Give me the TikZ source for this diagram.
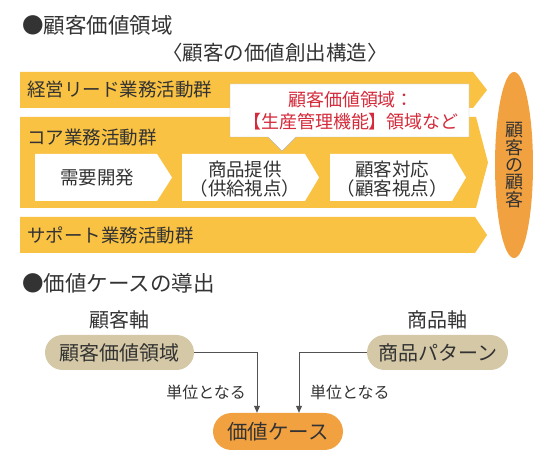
\documentclass[tikz,border=0pt]{standalone}
\usepackage{fontspec}
\setmainfont{Noto Sans CJK JP}
\usetikzlibrary{positioning, arrows.meta, shapes.geometric, shapes.misc}
\definecolor{bandyellow}{HTML}{F9C242}
\definecolor{custorange}{HTML}{F2A141}
\definecolor{axistan}{HTML}{D4C8A6}
\definecolor{calloutred}{HTML}{D42A3A}
\definecolor{textgray}{HTML}{333333}

\begin{document}
\begin{tikzpicture}[
    x=1pt, y=-1pt,
    every node/.style={text=textgray, inner sep=0pt},
    band/.style={fill=bandyellow},
    stepshape/.style={fill=white},
    heading/.style={font=\fontsize{21.5}{24}\selectfont, anchor=west},
    bandlabel/.style={font=\fontsize{18.5}{20}\selectfont, anchor=west},
    steplabel/.style={font=\fontsize{18.5}{18.5}\selectfont, align=center},
    axisbox/.style={rounded rectangle, fill=axistan, minimum width=149pt, minimum height=35pt, font=\fontsize{20}{22}\selectfont},
    axislabel/.style={font=\fontsize{20}{22}\selectfont},
    unitlabel/.style={font=\fontsize{16}{18}\selectfont},
    link/.style={draw=textgray!85, line width=0.9pt, -{Triangle[width=6pt,length=7pt]}},
  ]
  \useasboundingbox (0,0) rectangle (550,465);

  % Customer value domain
  \node[heading] (title1) at (22,25) {●顧客価値領域};
  \node[font=\fontsize{20.5}{22}\selectfont] (subtitle) at (275,53) {〈顧客の価値創出構造〉};

  % Activity bands
  \path[band] (20,72) -- (473,72) -- (487,90) -- (473,108) -- (20,108) -- cycle;
  \path[band] (20,117) -- (476,117) -- (488,162.5) -- (476,208) -- (20,208) -- cycle;
  \path[band] (20,217) -- (475,217) -- (487,235) -- (475,253) -- (20,253) -- cycle;
  \node[bandlabel] (leadband) at (27,90) {経営リード業務活動群};
  \node[bandlabel] (coreband) at (27,138) {コア業務活動群};
  \node[bandlabel] (supportband) at (27,235) {サポート業務活動群};

  % Core steps
  \path[stepshape] (35,154) -- (157,154) -- (172,177.5) -- (157,201) -- (35,201) -- cycle;
  \path[stepshape] (182,154) -- (305,154) -- (319,177.5) -- (305,201) -- (182,201) -- cycle;
  \path[stepshape] (330,154) -- (452,154) -- (466,177.5) -- (452,201) -- (330,201) -- cycle;
  \node[steplabel] (demand) at (97,178) {需要開発};
  \node[steplabel] (supply) at (245,179) {商品提供\\（供給視点）};
  \node[steplabel] (service) at (392,179) {顧客対応\\（顧客視点）};

  % Callout
  \draw[draw=gray!55, fill=white] (230,84) -- (469,84) -- (469,137) -- (296,137)
    -- (282,151) -- (268,137) -- (230,137) -- cycle;
  \node[text=calloutred, font=\fontsize{18}{22}\selectfont, align=center] (callout) at (351,111)
    {顧客価値領域：\\【生産管理機能】領域など};

  % Customer's customer
  \node[ellipse, fill=custorange, minimum width=38pt, minimum height=186pt,
    font=\fontsize{18}{17.4}\selectfont, align=center] (endcust) at (514,165)
    {顧\\客\\の\\顧\\客};

  % Value case derivation
  \node[heading] (title2) at (22,283) {●価値ケースの導出};
  \node[axisbox] (custdomain) at (119.5,352.5) {顧客価値領域};
  \node[axisbox, minimum width=141pt] (prodpattern) at (437.5,352.5) {商品パターン};
  \node[axisbox, fill=custorange, minimum width=130pt, minimum height=37pt,
    font=\fontsize{20.5}{22}\selectfont] (valuecase) at (278,431.5) {価値ケース};
  \node[axislabel, above=5pt of custdomain] (custaxis) {顧客軸};
  \node[axislabel, above=5pt of prodpattern] (prodaxis) {商品軸};

  % Arrows
  \draw[link] (custdomain.east) -| ([xshift=-21pt]valuecase.north);
  \draw[link] (prodpattern.west) -| ([xshift=21pt]valuecase.north);
  \node[unitlabel, anchor=east] (unitleft) at (246,392) {単位となる};
  \node[unitlabel, anchor=west] (unitright) at (310,392) {単位となる};
\end{tikzpicture}
\end{document}
